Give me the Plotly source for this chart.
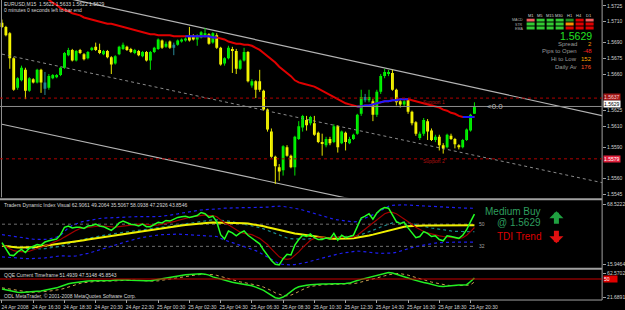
import plotly.graph_objects as go
import pandas as pd

W, H = 625, 310
FONT = "Liberation Sans"

# ---------------- main price data (EURUSD M15) ----------------
opens = [1.5709,1.5705,1.5699,1.5675,1.5647,1.5654,1.5664,1.5644,1.5655,1.5652,
         1.5664,1.5652,1.5647,1.5656,1.5657,1.5659,1.5666,1.5678,1.5683,1.5673,
         1.5683,1.5679,1.5675,1.5683,1.5686,1.5683,1.5679,1.5682,1.5676,1.5670,
         1.5679,1.5684,1.5686,1.5684,1.5680,1.5682,1.5677,1.5681,1.5673,1.5681,
         1.5684,1.5692,1.5686,1.5691,1.5685,1.5688,1.5691,1.5692,1.5696,1.5696,
         1.5693,1.5695,1.5696,1.5698,1.5690,1.5697,1.5685,1.5670,1.5675,1.5683,
         1.5682,1.5665,1.5673,1.5681,1.5649,1.5653,1.5653,1.5644,1.5626,1.5605,
         1.5581,1.5571,1.5568,1.5590,1.5582,1.5571,1.5598,1.5609,1.5616,1.5613,
         1.5613,1.5604,1.5595,1.5592,1.5598,1.5595,1.5610,1.5594,1.5604,1.5594,
         1.5598,1.5603,1.5622,1.5638,1.5635,1.5634,1.5621,1.5643,1.5658,1.5660,
         1.5661,1.5645,1.5634,1.5631,1.5636,1.5624,1.5614,1.5599,1.5603,1.5615,
         1.5606,1.5597,1.5600,1.5592,1.5590,1.5601,1.5598,1.5592,1.5590,1.5597,
         1.5606,1.5622]
highs = [1.5712,1.5706,1.5700,1.5676,1.5657,1.5668,1.5666,1.5657,1.5656,1.5665,
         1.5665,1.5662,1.5660,1.5660,1.5660,1.5667,1.5681,1.5685,1.5684,1.5683,
         1.5684,1.5680,1.5682,1.5686,1.5690,1.5689,1.5683,1.5683,1.5677,1.5678,
         1.5687,1.5690,1.5687,1.5685,1.5684,1.5683,1.5682,1.5682,1.5682,1.5686,
         1.5694,1.5693,1.5691,1.5692,1.5690,1.5693,1.5694,1.5695,1.5705,1.5698,
         1.5698,1.5701,1.5704,1.5699,1.5700,1.5699,1.5686,1.5676,1.5687,1.5686,
         1.5684,1.5674,1.5685,1.5682,1.5655,1.5654,1.5664,1.5645,1.5627,1.5608,
         1.5582,1.5574,1.5592,1.5592,1.5583,1.5601,1.5615,1.5621,1.5620,1.5620,
         1.5620,1.5605,1.5603,1.5600,1.5600,1.5612,1.5611,1.5606,1.5605,1.5600,
         1.5603,1.5622,1.5645,1.5641,1.5645,1.5636,1.5645,1.5660,1.5665,1.5664,
         1.5664,1.5646,1.5636,1.5636,1.5637,1.5625,1.5615,1.5605,1.5618,1.5617,
         1.5608,1.5602,1.5602,1.5594,1.5603,1.5603,1.5599,1.5593,1.5598,1.5608,
         1.5622,1.5633]
lows = [1.5704,1.5696,1.5665,1.5644,1.5645,1.5653,1.5636,1.5643,1.5651,1.5651,
        1.5642,1.5640,1.5645,1.5655,1.5656,1.5658,1.5665,1.5677,1.5672,1.5672,
        1.5679,1.5673,1.5674,1.5682,1.5682,1.5679,1.5678,1.5675,1.5660,1.5669,
        1.5678,1.5683,1.5682,1.5680,1.5679,1.5677,1.5676,1.5672,1.5664,1.5680,
        1.5683,1.5684,1.5685,1.5684,1.5678,1.5687,1.5690,1.5691,1.5691,1.5692,
        1.5687,1.5694,1.5695,1.5688,1.5689,1.5684,1.5668,1.5668,1.5674,1.5661,
        1.5660,1.5664,1.5672,1.5652,1.5647,1.5637,1.5643,1.5625,1.5605,1.5580,
        1.5555,1.5558,1.5563,1.5581,1.5570,1.5563,1.5597,1.5605,1.5606,1.5611,
        1.5601,1.5594,1.5582,1.5590,1.5592,1.5594,1.5585,1.5593,1.5587,1.5593,
        1.5597,1.5602,1.5620,1.5633,1.5633,1.5615,1.5619,1.5641,1.5656,1.5658,
        1.5644,1.5630,1.5628,1.5629,1.5622,1.5611,1.5601,1.5597,1.5601,1.5597,
        1.5596,1.5595,1.5587,1.5584,1.5589,1.5597,1.5589,1.5588,1.5589,1.5596,
        1.5605,1.5622]
closes = [1.5705,1.5697,1.5675,1.5645,1.5656,1.5666,1.5644,1.5656,1.5652,1.5664,
          1.5652,1.5646,1.5658,1.5659,1.5659,1.5666,1.5680,1.5683,1.5673,1.5682,
          1.5680,1.5674,1.5681,1.5685,1.5683,1.5680,1.5682,1.5676,1.5669,1.5677,
          1.5686,1.5688,1.5683,1.5681,1.5683,1.5678,1.5681,1.5673,1.5681,1.5685,
          1.5693,1.5685,1.5689,1.5685,1.5688,1.5692,1.5693,1.5694,1.5692,1.5693,
          1.5697,1.5700,1.5699,1.5689,1.5699,1.5685,1.5669,1.5675,1.5685,1.5682,
          1.5665,1.5673,1.5681,1.5653,1.5653,1.5645,1.5645,1.5626,1.5607,1.5581,
          1.5572,1.5567,1.5591,1.5582,1.5571,1.5600,1.5610,1.5620,1.5611,1.5619,
          1.5602,1.5595,1.5594,1.5598,1.5594,1.5610,1.5590,1.5605,1.5595,1.5598,
          1.5602,1.5621,1.5638,1.5635,1.5638,1.5621,1.5643,1.5658,1.5662,1.5662,
          1.5645,1.5633,1.5631,1.5634,1.5624,1.5613,1.5603,1.5603,1.5616,1.5605,
          1.5597,1.5600,1.5592,1.5589,1.5602,1.5598,1.5593,1.5590,1.5597,1.5607,
          1.5621,1.5629]
teal_bars = [11, 44, 93]

# moving average (None = above the visible window start)
ma = [None]*10 + [
    1.5737,1.5734,1.5731,1.5728,1.5726,1.5723,1.5721,1.5720,1.5718,1.5717,
    1.5716,1.5714,1.5713,1.5712,1.5711,1.5710,1.5709,1.5708,1.5708,1.5707,
    1.5706,1.5705,1.5704,1.5703,1.5702,1.5701,1.5700,1.5699,1.5698,1.5698,
    1.5697,1.5697,1.5697,1.5697,1.5696,1.5696,1.5696,1.5696,1.5696,1.5696,
    1.5696,1.5696,1.5696,1.5696,1.5695,1.5695,1.5694,1.5693,1.5691,1.5690,
    1.5689,1.5689,1.5688,1.5688,1.5687,1.5685,1.5683,1.5680,1.5677,1.5674,
    1.5671,1.5667,1.5664,1.5661,1.5658,1.5654,1.5652,1.5651,1.5650,1.5649,
    1.5648,1.5646,1.5644,1.5642,1.5640,1.5638,1.5636,1.5634,1.5632,1.5631,
    1.5630,1.5629,1.5629,1.5630,1.5630,1.5631,1.5632,1.5633,1.5634,1.5634,
    1.5635,1.5635,1.5636,1.5636,1.5636,1.5635,1.5634,1.5633,1.5632,1.5631,
    1.5630,1.5629,1.5628,1.5626,1.5625,1.5623,1.5622,1.5620,1.5619,1.5619,
    1.5619,1.5619]
ma_blue_ranges = [(47, 55), (91, 104), (118, 121)]

# regression channel anchors (bar index, price)
chan_x = [0, 154]
chan_upper = [1.5746, 1.5620]
chan_mid = [1.5679, 1.5556]
chan_lower = [1.5612, 1.5489]
support_levels = [1.5637, 1.5579]

price_ticks = ["1.5725","1.5710","1.5690","1.5675","1.5660","1.5625","1.5610",
               "1.5590","1.5560","1.5545"]
time_labels = ["24 Apr 2008","24 Apr 16:30","24 Apr 18:30","24 Apr 20:30","24 Apr 22:30",
               "25 Apr 00:30","25 Apr 02:30","25 Apr 04:30","25 Apr 06:30","25 Apr 08:30",
               "25 Apr 10:30","25 Apr 12:30","25 Apr 14:30","25 Apr 16:30","25 Apr 18:30",
               "25 Apr 20:30"]

# ---------------- TDI ----------------
tdi_rsi = [35.0,30.0,25.0,24.5,27.5,29.5,27.0,30.5,32.0,33.5,33.0,35.5,36.5,37.0,38.0,41.5,
           47.5,48.5,47.0,47.5,47.5,46.5,48.5,49.0,50.0,48.5,48.0,46.5,45.0,47.5,51.0,52.5,
           51.0,50.0,49.5,48.5,50.0,48.0,48.0,49.5,51.5,51.0,53.0,52.5,54.0,55.5,56.0,56.5,
           55.5,56.0,57.0,59.5,58.5,55.5,56.5,52.0,41.5,38.0,44.5,43.0,40.5,43.0,44.5,41.0,
           38.5,36.0,34.0,29.0,25.0,20.5,17.5,17.0,22.0,25.5,25.0,33.0,37.5,41.0,40.0,42.0,
           39.0,37.5,37.5,39.0,38.0,42.5,37.0,41.0,39.0,40.0,41.0,48.0,55.0,56.5,58.5,54.0,
           59.0,62.0,63.5,63.0,57.0,52.0,50.5,51.5,47.0,43.0,39.0,40.0,44.0,42.5,40.0,40.5,
           37.5,36.5,40.5,40.0,39.0,38.5,41.0,45.5,52.0,58.1]
tdi_signal = [33,32,30,28.5,28,27.5,27.5,28,29,30,31,32,33.5,35,36,37.5,39.5,41.5,43.5,45,
              46.5,47,47.5,47.5,48,48.5,48.5,48,47.5,47.5,48,48.5,49,49.5,50,50,50,49.5,49,49,
              49.5,50,50.5,51,52,53,54,55,55.5,56,56.5,57,57.5,57,57,56,53.5,51,49.5,47.5,
              45,43.5,42.5,42,41.5,40,38.5,36,33.5,30,26.5,23.5,22,21.5,22,24.5,27.5,31,34,37,
              38.5,39.5,39.5,39,38.5,39.5,39.5,39.5,39.5,39.5,39.5,41,43.5,46,49,51.5,54,56.5,58.5,59.5,
              59.5,58.5,56.5,54.5,52.5,50,47.5,45.5,44,43,42,41,40.5,40,39.5,39,39,38.5,39,41,
              44,47.3]
tdi_base = [32.5,32.0,31.5,31.2,31.0,31.0,31.0,31.0,31.2,31.5,32.0,32.4,32.8,33.2,33.6,34.0,
            34.5,35.0,35.5,36.0,36.5,37.0,37.5,38.0,38.5,39.0,39.5,40.0,40.5,41.0,41.5,42.0,
            42.5,43.0,43.5,44.0,44.5,45.0,45.5,46.0,46.5,47.0,47.4,47.8,48.2,48.6,49.0,49.4,
            49.8,50.1,50.4,50.7,51.0,51.2,51.3,51.3,51.3,51.3,51.3,51.2,51.1,51.0,50.8,50.5,
            50.1,49.6,49.0,48.3,47.5,46.7,45.9,45.1,44.4,43.7,43.1,42.5,42.0,41.5,41.0,40.5,
            40.0,39.5,39.0,38.6,38.3,38.1,38.0,38.0,38.1,38.3,38.6,39.0,39.5,40.1,40.8,41.5,
            42.3,43.1,44.0,44.9,45.8,46.6,47.3,47.9,48.3,48.6,48.8,48.9,49.0,49.0,49.0,49.0,
            49.0,49.0,49.0,49.0,49.1,49.1,49.1,49.2,49.2,49.2]
tdi_upper = [41.5,41.0,40.5,40.0,39.5,39.0,38.5,38.0,37.8,37.6,37.5,37.6,38.0,38.5,39.5,41.0,
             44.0,47.0,49.0,50.5,51.5,52.3,53.0,53.6,54.2,54.6,54.9,55.1,55.2,55.3,55.6,56.0,
             56.2,56.3,56.3,56.2,56.2,56.1,56.0,56.0,56.2,56.4,56.8,57.2,57.7,58.3,59.0,59.6,
             60.0,60.4,60.9,61.5,61.8,61.9,62.0,62.0,62.5,63.0,63.2,63.3,63.4,63.4,63.4,63.4,
             63.4,63.4,63.5,63.6,63.8,64.2,64.5,64.6,64.4,64.0,63.6,63.0,62.3,61.5,60.5,59.5,
             58.5,57.5,56.5,55.5,54.5,54.0,53.5,53.0,52.5,52.0,51.8,52.2,53.5,55.0,56.5,57.5,
             59.0,61.0,63.0,64.5,65.3,65.6,65.7,65.7,65.5,65.3,65.0,64.8,64.6,64.4,64.2,64.0,
             63.8,63.6,63.5,63.4,63.3,63.2,63.1,63.0,62.95,62.9]
tdi_lower = [23.5,23.2,23.0,22.5,22.3,22.2,22.1,22.0,22.0,22.1,22.3,22.6,23.0,23.5,24.0,24.3,
             24.2,24.0,24.0,24.3,24.8,25.5,26.3,27.2,28.1,29.0,30.0,31.0,32.0,33.0,34.0,35.0,
             36.0,37.0,37.8,38.5,39.2,39.8,40.3,40.8,41.2,41.5,41.7,41.8,41.9,41.9,41.8,41.6,
             41.4,41.2,41.0,40.8,40.6,40.4,40.2,40.0,38.5,37.0,36.0,35.0,34.0,33.0,32.0,31.0,
             29.8,28.5,27.0,25.3,23.5,21.5,19.5,18.0,17.3,17.0,17.0,17.2,17.6,18.2,19.0,19.9,
             20.8,21.7,22.6,23.4,24.2,25.0,25.7,26.4,27.0,27.6,28.0,28.2,28.0,27.5,27.0,26.8,
             26.5,26.3,26.2,26.3,26.6,27.2,28.0,29.0,30.0,31.0,31.8,32.5,33.2,33.8,34.3,34.7,
             35.0,35.2,35.3,35.4,35.45,35.5,35.5,35.5,35.5,35.5]
tdi_mid = [33.0,32.5,32.0,31.5,31.0,30.7,30.4,30.2,30.0,30.0,30.0,30.2,30.5,31.0,31.5,32.2,
           33.2,34.2,35.2,36.2,37.0,37.8,38.5,39.2,39.8,40.4,41.0,41.5,42.0,42.4,42.8,43.3,
           43.8,44.2,44.6,45.0,45.4,45.8,46.2,46.6,47.0,47.4,47.8,48.3,48.8,49.3,49.8,50.3,
           50.8,51.3,51.8,52.3,52.8,53.2,53.5,53.6,53.4,53.0,52.5,52.0,51.4,50.8,50.2,49.6,
           48.9,48.1,47.2,46.2,45.0,43.7,42.3,41.0,39.8,38.8,38.2,37.9,37.8,37.8,38.0,38.2,
           38.5,38.7,38.9,39.0,39.1,39.2,39.3,39.4,39.5,39.7,40.0,40.6,41.5,42.6,43.8,45.0,
           46.3,47.7,49.0,50.2,51.0,51.5,51.7,51.6,51.2,50.6,49.9,49.1,48.3,47.6,46.9,46.3,
           45.7,45.2,44.8,44.5,44.2,44.0,43.9,43.85,43.85,43.85]
tdi_levels = [32, 50]
tdi_range = [15.9464, 68.5222]

# ---------------- QQE ----------------
qqe = [35.8,34.5,33.4,32.3,31.4,31.0,31.2,32.0,32.5,32.8,33.2,34.0,35.0,35.8,37.5,39.5,
       41.5,43.2,44.2,45.2,46.2,46.8,47.2,47.5,47.4,47.2,47.1,47.4,47.9,48.5,48.8,48.9,
       48.7,48.2,47.8,47.5,47.4,47.4,47.5,48.5,49.8,50.8,51.8,52.8,53.5,54.5,55.4,56.0,
       56.5,57.0,57.4,57.3,56.9,55.5,53.0,51.5,49.5,47.5,46.5,45.4,44.5,43.6,42.6,41.5,
       40.5,38.5,36.5,34.0,30.5,27.0,23.5,22.5,24.5,28.0,32.0,36.5,39.0,40.5,41.3,42.0,
       42.5,42.8,42.8,42.8,42.8,42.8,42.8,43.0,43.5,44.2,45.5,47.8,49.5,51.0,52.5,53.6,
       55.2,57.0,58.8,59.3,58.5,57.0,55.3,53.5,51.5,49.5,47.8,46.5,45.2,44.0,42.5,41.0,
       39.6,39.5,40.0,41.0,41.4,41.4,41.4,42.0,46.5,51.5]
qqe_trail = [37.5,37.0,36.0,35.0,34.0,33.0,32.0,31.5,31.2,31.3,31.8,32.3,32.8,33.4,34.2,35.3,
             36.8,38.8,40.8,42.5,43.8,44.8,45.6,46.2,46.6,46.8,46.8,46.8,46.9,47.2,47.6,48.0,
             48.3,48.4,48.3,48.0,47.6,47.2,47.0,47.0,47.4,48.3,49.4,50.4,51.4,52.3,53.2,54.0,
             54.8,55.5,56.0,56.4,56.6,56.6,56.2,55.2,53.5,51.8,50.0,48.5,47.2,46.0,45.0,44.0,
             43.0,41.8,40.4,38.6,36.4,33.6,30.5,28.0,26.5,26.2,27.2,29.5,32.5,35.5,37.8,39.5,
             40.6,41.4,41.8,42.0,42.2,42.3,42.4,42.5,42.6,42.9,43.4,44.3,45.6,47.2,48.7,50.2,
             51.5,53.0,54.5,56.0,57.2,57.8,57.6,56.8,55.5,53.8,52.0,50.2,48.5,47.0,45.7,44.5,
             43.2,42.0,41.2,40.7,40.5,40.6,40.8,41.1,41.8,45.85]
qqe_level = 50
qqe_range = [21.6891, 62.5702]

# ---------------- multi-timeframe table ----------------
tf_cols = ["M1","M5","M15","M30","H1","H4","D1"]
tf_rows = ["MACD","STR","EMA"]
tf_states = [["down_weak","up","up","up","up_weak","down","down_weak"],
             ["up","up","up","up","neutral","down","down"],
             ["up","up","up","up","down","down","down"]]
spread, pips_to_open, hi_to_low, daily_av = 2, -48, 152, 176

# =================================================================
N = len(closes)
idx = list(range(N))
times = pd.date_range("2008-04-24 14:30", periods=N, freq="15min")
tickvals = [i for i, t in enumerate(times) if t.minute == 30 and t.hour % 2 == 0]

def px(x): return x / W
def py(y): return 1 - y / H

XMAX = 606 / W
fig = go.Figure()

# channel
for yy, col, dash, wd in [(chan_upper, "#b4b4b4", "solid", 1.2), (chan_mid, "#8a8a8a", "dot", 1),
                          (chan_lower, "#b4b4b4", "solid", 1.2)]:
    fig.add_trace(go.Scatter(x=chan_x, y=yy, mode="lines", line=dict(color=col, width=wd, dash=dash),
                             xaxis="x", yaxis="y", hoverinfo="skip"))

# candles
groups = {"bull": [], "bear": [], "teal": []}
for i in idx:
    if i in teal_bars:
        groups["teal"].append(i)
    elif closes[i] >= opens[i]:
        groups["bull"].append(i)
    else:
        groups["bear"].append(i)
gcol = {"bull": ("#00ff00", "#00e000"), "bear": ("#ffff00", "#e6e600"), "teal": ("#1c7f8f", "#2a8a9a")}
for g, members in groups.items():
    wx, wy = [], []
    for i in members:
        wx += [i, i, None]
        wy += [lows[i], highs[i], None]
    fig.add_trace(go.Scatter(x=wx, y=wy, mode="lines", line=dict(color=gcol[g][1], width=1),
                             xaxis="x", yaxis="y", hoverinfo="skip", connectgaps=False))
    hgt = []
    for i in members:
        d = closes[i] - opens[i]
        if abs(d) < 0.00005:
            d = 0.00005
        hgt.append(d)
    fig.add_trace(go.Bar(x=members, y=hgt, base=[opens[i] for i in members], width=0.72,
                         marker=dict(color=gcol[g][0], line=dict(width=0)),
                         xaxis="x", yaxis="y", hoverinfo="skip"))

# moving average
fig.add_trace(go.Scatter(x=idx, y=ma, mode="lines", line=dict(color="#e00000", width=2),
                         xaxis="x", yaxis="y", hoverinfo="skip"))
for a, b in ma_blue_ranges:
    fig.add_trace(go.Scatter(x=idx[a:b + 1], y=ma[a:b + 1], mode="lines",
                             line=dict(color="#1a1aff", width=2), xaxis="x", yaxis="y", hoverinfo="skip"))

# TDI
for lv in tdi_levels:
    fig.add_trace(go.Scatter(x=[idx[0], idx[-1]], y=[lv, lv], mode="lines",
                             line=dict(color="#707070", width=1, dash="dot"),
                             xaxis="x", yaxis="y2", hoverinfo="skip"))
for ser, col, wd, dash in [(tdi_upper, "#1e1ef0", 1.2, "dot"), (tdi_lower, "#1e1ef0", 1.2, "dot"),
                           (tdi_mid, "#1a8a8a", 1.2, "dot"), (tdi_base, "#f0f000", 2, "solid"),
                           (tdi_signal, "#a00000", 1.2, "solid"), (tdi_rsi, "#22ff22", 1.5, "solid")]:
    fig.add_trace(go.Scatter(x=idx, y=ser, mode="lines", line=dict(color=col, width=wd, dash=dash),
                             xaxis="x", yaxis="y2", hoverinfo="skip"))

# QQE
fig.add_trace(go.Scatter(x=idx, y=qqe_trail, mode="lines", line=dict(color="#c8a050", width=1, dash="dot"),
                         xaxis="x", yaxis="y3", hoverinfo="skip"))
fig.add_trace(go.Scatter(x=idx, y=qqe, mode="lines", line=dict(color="#22ee22", width=1.5),
                         xaxis="x", yaxis="y3", hoverinfo="skip"))

# table heatmap
code = {"up": 0, "up_weak": 1, "neutral": 2, "down": 3, "down_weak": 4}
z = [[code[s] for s in row] for row in tf_states]
cs = [[0, "#33cc33"], [0.2, "#33cc33"], [0.2, "#1f8f1f"], [0.4, "#1f8f1f"], [0.4, "#ff8c00"],
      [0.6, "#ff8c00"], [0.6, "#e00000"], [0.8, "#e00000"], [0.8, "#f06060"], [1, "#f06060"]]
fig.add_trace(go.Heatmap(z=z, x=tf_cols, y=tf_rows, colorscale=cs, zmin=0, zmax=4, showscale=False,
                         xgap=2, ygap=1, xaxis="x4", yaxis="y4", hoverinfo="skip"))

# tick label positions for the indicator panels (labels sit just inside the panel edges)
tdi_lab_pos = [17.2, 66.2]
qqe_lab_pos = [24.3, 57.8]

axfont = dict(size=5, color="#d0d0d0", family=FONT)
layout = dict(
    width=W, height=H, autosize=False, margin=dict(l=0, r=0, t=0, b=0),
    paper_bgcolor="#000000", plot_bgcolor="#000000", showlegend=False, barmode="overlay",
    font=dict(family=FONT, color="#d0d0d0"),
    xaxis=dict(domain=[0, XMAX], range=[-0.51, 153.7], anchor="y3", showgrid=False, zeroline=False,
               tickvals=tickvals, ticktext=time_labels, tickfont=axfont, ticks="outside", ticklen=3,
               tickcolor="#a0a0a0", ticklabelshift=13, ticklabelstandoff=0, showline=False),
    yaxis=dict(domain=[1 - 198 / H, 1], range=[1.55422, 1.57307], side="right", anchor="x",
               showgrid=False, zeroline=False, tickvals=[float(t) for t in price_ticks], ticktext=price_ticks,
               tickfont=axfont, ticks="outside", ticklen=3, tickcolor="#a0a0a0"),
    yaxis2=dict(domain=[1 - 267 / H, 1 - 202 / H], range=tdi_range, side="right", anchor="x",
                showgrid=False, zeroline=False, tickvals=tdi_lab_pos,
                ticktext=[f"{v:.4f}" for v in tdi_range],
                tickfont=axfont, ticks="outside", ticklen=3, tickcolor="#a0a0a0"),
    yaxis3=dict(domain=[1 - 300 / H, 1 - 271 / H], range=qqe_range, side="right", anchor="x",
                showgrid=False, zeroline=False, tickvals=qqe_lab_pos,
                ticktext=[f"{v:.4f}" for v in qqe_range],
                tickfont=axfont, ticks="outside", ticklen=3, tickcolor="#a0a0a0"),
    xaxis4=dict(domain=[px(529), px(598)], anchor="y4", visible=False),
    yaxis4=dict(domain=[py(31), py(18.5)], anchor="x4", visible=False, autorange="reversed"),
)
fig.update_layout(**layout)

shapes = []
for y, wd in [(200, 2), (269.5, 2), (301, 1)]:
    shapes.append(dict(type="line", xref="paper", yref="paper", x0=0, x1=XMAX, y0=py(y), y1=py(y),
                       line=dict(color="#a0a0a0", width=wd)))
shapes.append(dict(type="line", xref="paper", yref="paper", x0=XMAX, x1=XMAX, y0=py(301), y1=1,
                   line=dict(color="#a0a0a0", width=1)))
shapes.append(dict(type="line", xref="paper", yref="paper", x0=px(1.5), x1=px(1.5), y0=py(198), y1=1,
                   line=dict(color="#909090", width=1)))
shapes.append(dict(type="line", xref="x domain", yref="y", x0=0, x1=1, y0=closes[-1], y1=closes[-1],
                   line=dict(color="#8c8c8c", width=1)))
for s in support_levels:
    shapes.append(dict(type="line", xref="x domain", yref="y", x0=0, x1=1, y0=s, y1=s,
                       line=dict(color="#b00000", width=1, dash="dot")))
shapes.append(dict(type="line", xref="x domain", yref="y3", x0=0, x1=1, y0=qqe_level, y1=qqe_level,
                   line=dict(color="#c80000", width=1.2)))
fig.update_layout(shapes=shapes)

anns = []
def ann(text, x, y, size=5, color="#d8d8d8", xanchor="left", yanchor="middle", **kw):
    anns.append(dict(text=text, x=px(x), y=py(y), xref="paper", yref="paper", showarrow=False,
                     font=dict(size=size, color=color, family=FONT), xanchor=xanchor, yanchor=yanchor, **kw))

ann(f"EURUSD,M15  {opens[-1]:.4f} {highs[-1]:.4f} {lows[-1]:.4f} {closes[-1]:.4f}", 2, 4)
ann("0 minutes 0 seconds left to bar end", 2, 10)
ann("Traders Dynamic Index Visual 62.9061 49.2064 35.5067 58.0938 47.2926 43.8546", 2, 206)
ann("QQE Current Timeframe 51.4939 47.5148 45.8543", 2, 276)
ann("ODL MetaTrader, \u00a9 2001-2008 MetaQuotes Software Corp.", 2, 297)

for j, c in enumerate(tf_cols):
    ann(c, 529 + (j + 0.5) * (69 / 7), 16, size=4, xanchor="center")
for r, lab in enumerate(tf_rows):
    ann(lab, 528, 20.5 + 4.2 * r, size=3.6, color="#b0b0b0", xanchor="right")
ann(f"{closes[-1]:.4f}", 598, 36, size=10.5, color="#22e022", xanchor="right")
info = [("Spread", str(spread), "#ff9900"), ("Pips to Open", str(pips_to_open), "#ff2020"),
        ("Hi to Low", str(hi_to_low), "#ffa500"), ("Daily Av", str(daily_av), "#ff5020")]
for k, (lab, val, vc) in enumerate(info):
    yy = 44 + k * 7.6
    ann(lab, 583, yy, size=6, color="#9a9a9a", xanchor="right")
    ann(val, 598, yy, size=6, color=vc, xanchor="right")

anns.append(dict(text="Support 1", x=110.7, y=support_levels[0] - 0.00035, xref="x", yref="y", showarrow=False,
                 font=dict(size=5, color="#b01010", family=FONT)))
anns.append(dict(text="Support 2", x=110.7, y=support_levels[1] - 0.00025, xref="x", yref="y", showarrow=False,
                 font=dict(size=5, color="#b01010", family=FONT)))
anns.append(dict(text="<0.0", x=123.6, y=closes[-1], xref="x", yref="y", showarrow=False, xanchor="left",
                 font=dict(size=8, color="#b8b8b8", family=FONT)))
for lv in tdi_levels:
    anns.append(dict(text=str(lv), x=idx[-1] + 0.6, y=lv, xref="x", yref="y2", showarrow=False, xanchor="left",
                     font=dict(size=5, color="#a0a0a0", family=FONT)))

def box(val, yref, bg, fg, text=None, yshift=0):
    anns.append(dict(text=text or f"{val:.4f}", x=px(607), y=val, xref="paper", yref=yref, showarrow=False,
                     xanchor="left", yanchor="middle", bgcolor=bg, borderpad=0, yshift=yshift,
                     font=dict(size=5, color=fg, family=FONT)))
box(support_levels[0], "y", "#a01818", "#ffd0d0", yshift=1)
box(closes[-1], "y", "#ffffff", "#000000", yshift=2)
box(support_levels[1], "y", "#e0203c", "#ffffff")
box(qqe_level, "y3", "#e00000", "#ffffff", text=f"{qqe_level}     ")

ann("Medium Buy", 547, 212.5, size=10, color="#2e9e5e", xanchor="right")
ann(f"@ {closes[-1]:.4f}", 547, 223.5, size=10, color="#2e9e5e", xanchor="right")
ann("TDI Trend", 547, 237, size=10, color="#dd0000", xanchor="right")
anns.append(dict(text="", x=px(560), y=py(212), xref="paper", yref="paper", showarrow=True, ax=0, ay=14,
                 arrowhead=1, arrowsize=0.47, arrowwidth=5, arrowcolor="#1fa040", standoff=0))
anns.append(dict(text="", x=px(560), y=py(244), xref="paper", yref="paper", showarrow=True, ax=0, ay=-14,
                 arrowhead=1, arrowsize=0.47, arrowwidth=5, arrowcolor="#e01010", standoff=0))

fig.update_layout(annotations=anns)
fig.write_html("out.html")
